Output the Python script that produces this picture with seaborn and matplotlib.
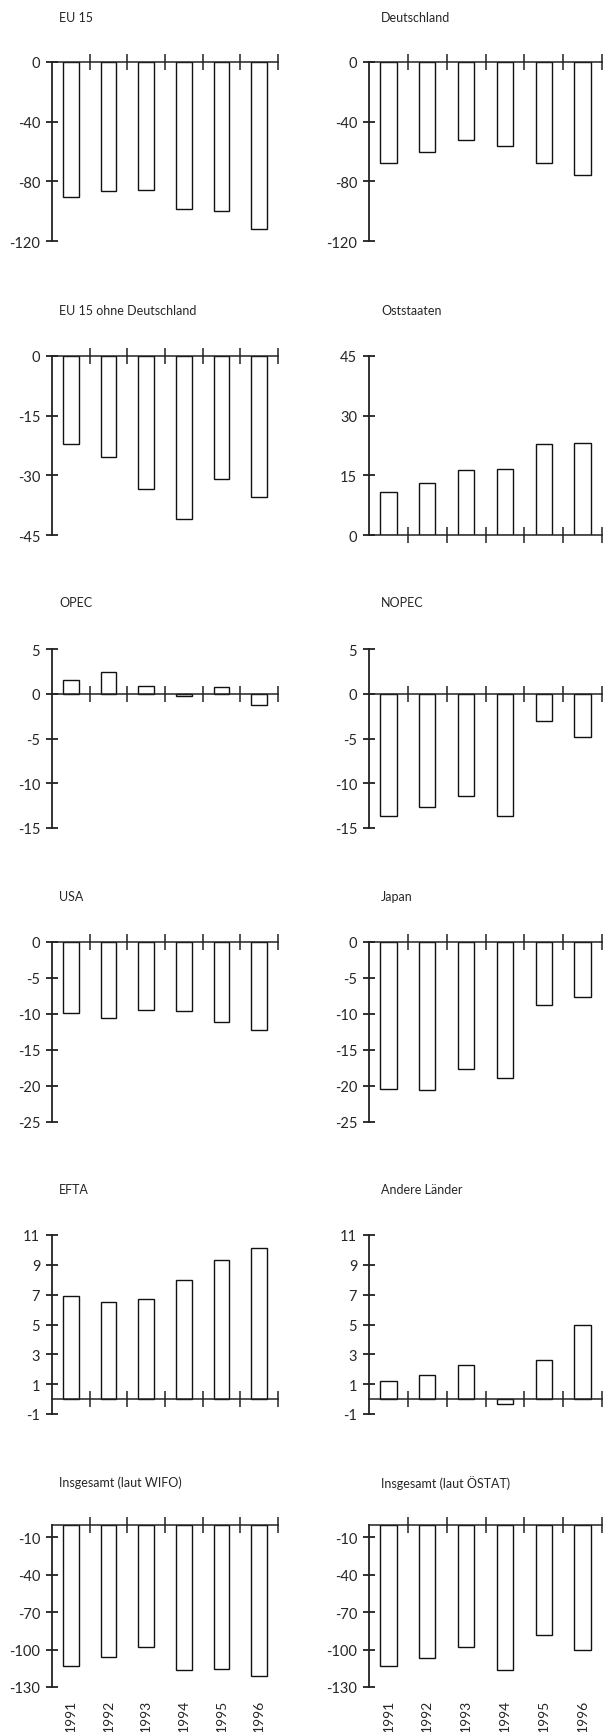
import numpy as np
import pandas as pd
import matplotlib
matplotlib.use("Agg")
import matplotlib.pyplot as plt
from matplotlib.ticker import FixedLocator
import seaborn as sns

sns.set_style("ticks")
plt.rcParams["font.family"] = ["Lato", "DejaVu Sans"]
plt.rcParams["axes.unicode_minus"] = False

# Handelsbilanz nach Regionen, 1991-1996
years = ["1991", "1992", "1993", "1994", "1995", "1996"]

eu15 = [-90.5, -86.5, -86.0, -98.5, -100.0, -112.0]
deutschland = [-68.0, -60.5, -52.0, -56.0, -68.0, -76.0]
eu15_ohne_de = [-22.0, -25.5, -33.5, -41.0, -31.0, -35.5]
oststaaten = [10.9, 13.0, 16.3, 16.6, 22.9, 23.2]
opec = [1.5, 2.4, 0.9, -0.2, 0.7, -1.3]
nopec = [-13.7, -12.6, -11.4, -13.7, -3.0, -4.8]
usa = [-9.8, -10.5, -9.5, -9.6, -11.1, -12.2]
japan = [-20.4, -20.5, -17.6, -18.9, -8.8, -7.6]
efta = [6.9, 6.5, 6.7, 8.0, 9.3, 10.1]
andere = [1.2, 1.6, 2.3, -0.3, 2.6, 5.0]
gesamt_wifo = [-113.0, -106.0, -97.5, -116.0, -115.5, -121.0]
gesamt_oestat = [-113.0, -106.5, -98.0, -116.0, -88.0, -100.0]

titles = [("EU 15", "Deutschland"),
          ("EU 15 ohne Deutschland", "Oststaaten"),
          ("OPEC", "NOPEC"),
          ("USA", "Japan"),
          ("EFTA", "Andere Länder"),
          ("Insgesamt (laut WIFO)", "Insgesamt (laut ÖSTAT)")]
series = [(eu15, deutschland),
          (eu15_ohne_de, oststaaten),
          (opec, nopec),
          (usa, japan),
          (efta, andere),
          (gesamt_wifo, gesamt_oestat)]
ylims = [((-120, 0), (-120, 0)),
         ((-45, 0), (0, 45)),
         ((-15, 5), (-15, 5)),
         ((-25, 0), (-25, 0)),
         ((-1, 11), (-1, 11)),
         ((-130, 0), (-130, 0))]
yticks = [([0, -40, -80, -120], [0, -40, -80, -120]),
          ([0, -15, -30, -45], [45, 30, 15, 0]),
          ([5, 0, -5, -10, -15], [5, 0, -5, -10, -15]),
          ([0, -5, -10, -15, -20, -25], [0, -5, -10, -15, -20, -25]),
          ([11, 9, 7, 5, 3, 1, -1], [11, 9, 7, 5, 3, 1, -1]),
          ([-10, -40, -70, -100, -130], [-10, -40, -70, -100, -130])]

# layout in pixels
W, H = 603, 1733
col_x = [(52, 278), (369, 602)]
row_y = [(63, 242), (357, 536), (650, 829), (943, 1123), (1236, 1415), (1526, 1688)]
title_y = [18, 311, 603, 897, 1190, 1483]
title_x = [59, 381]

fig = plt.figure(figsize=(W / 100, H / 100), dpi=100)


def draw_panel(ax, values, ylim, ticks, show_years):
    df = pd.DataFrame({"Jahr": years, "Wert": values})
    sns.barplot(data=df, x="Jahr", y="Wert", color="white", saturation=1,
                edgecolor="#111111", linewidth=1.0, width=0.42, ax=ax)
    ax.set_xlim(-0.5, 5.5)
    ax.set_ylim(*ylim)
    ax.set_yticks(ticks)
    ax.set_yticklabels([str(t) for t in ticks])
    ax.set_xlabel("")
    ax.set_ylabel("")
    ax.spines["right"].set_visible(False)
    ax.spines["bottom"].set_visible(False)
    ax.spines["top"].set_position(("data", 0))
    ax.spines["top"].set_linewidth(1.1)
    ax.spines["left"].set_linewidth(1.3)
    ax.spines["top"].set_color("#222222")
    ax.spines["left"].set_color("#222222")
    ax.xaxis.set_minor_locator(FixedLocator(np.arange(0.5, 6, 1)))
    ax.tick_params(axis="x", which="minor", top=True, bottom=False,
                   direction="inout", length=11, width=1.1, color="#222222")
    ax.tick_params(axis="x", which="major", top=False, bottom=False,
                   labelbottom=show_years, labelrotation=90, labelsize=10, pad=5)
    ax.tick_params(axis="y", direction="inout", length=9, width=1.3,
                   color="#222222", labelsize=10.5, pad=4)
    ax.set_facecolor("white")


for r in range(6):
    y0, y1 = row_y[r]
    for c in range(2):
        x0, x1 = col_x[c]
        ax = fig.add_axes([x0 / W, 1 - y1 / H, (x1 - x0) / W, (y1 - y0) / H])
        draw_panel(ax, series[r][c], ylims[r][c], yticks[r][c], r == 5)
        fig.text(title_x[c] / W, 1 - title_y[r] / H, titles[r][c],
                 ha="left", va="center", fontsize=9)

fig.savefig("out.png", dpi=100, facecolor="white")
